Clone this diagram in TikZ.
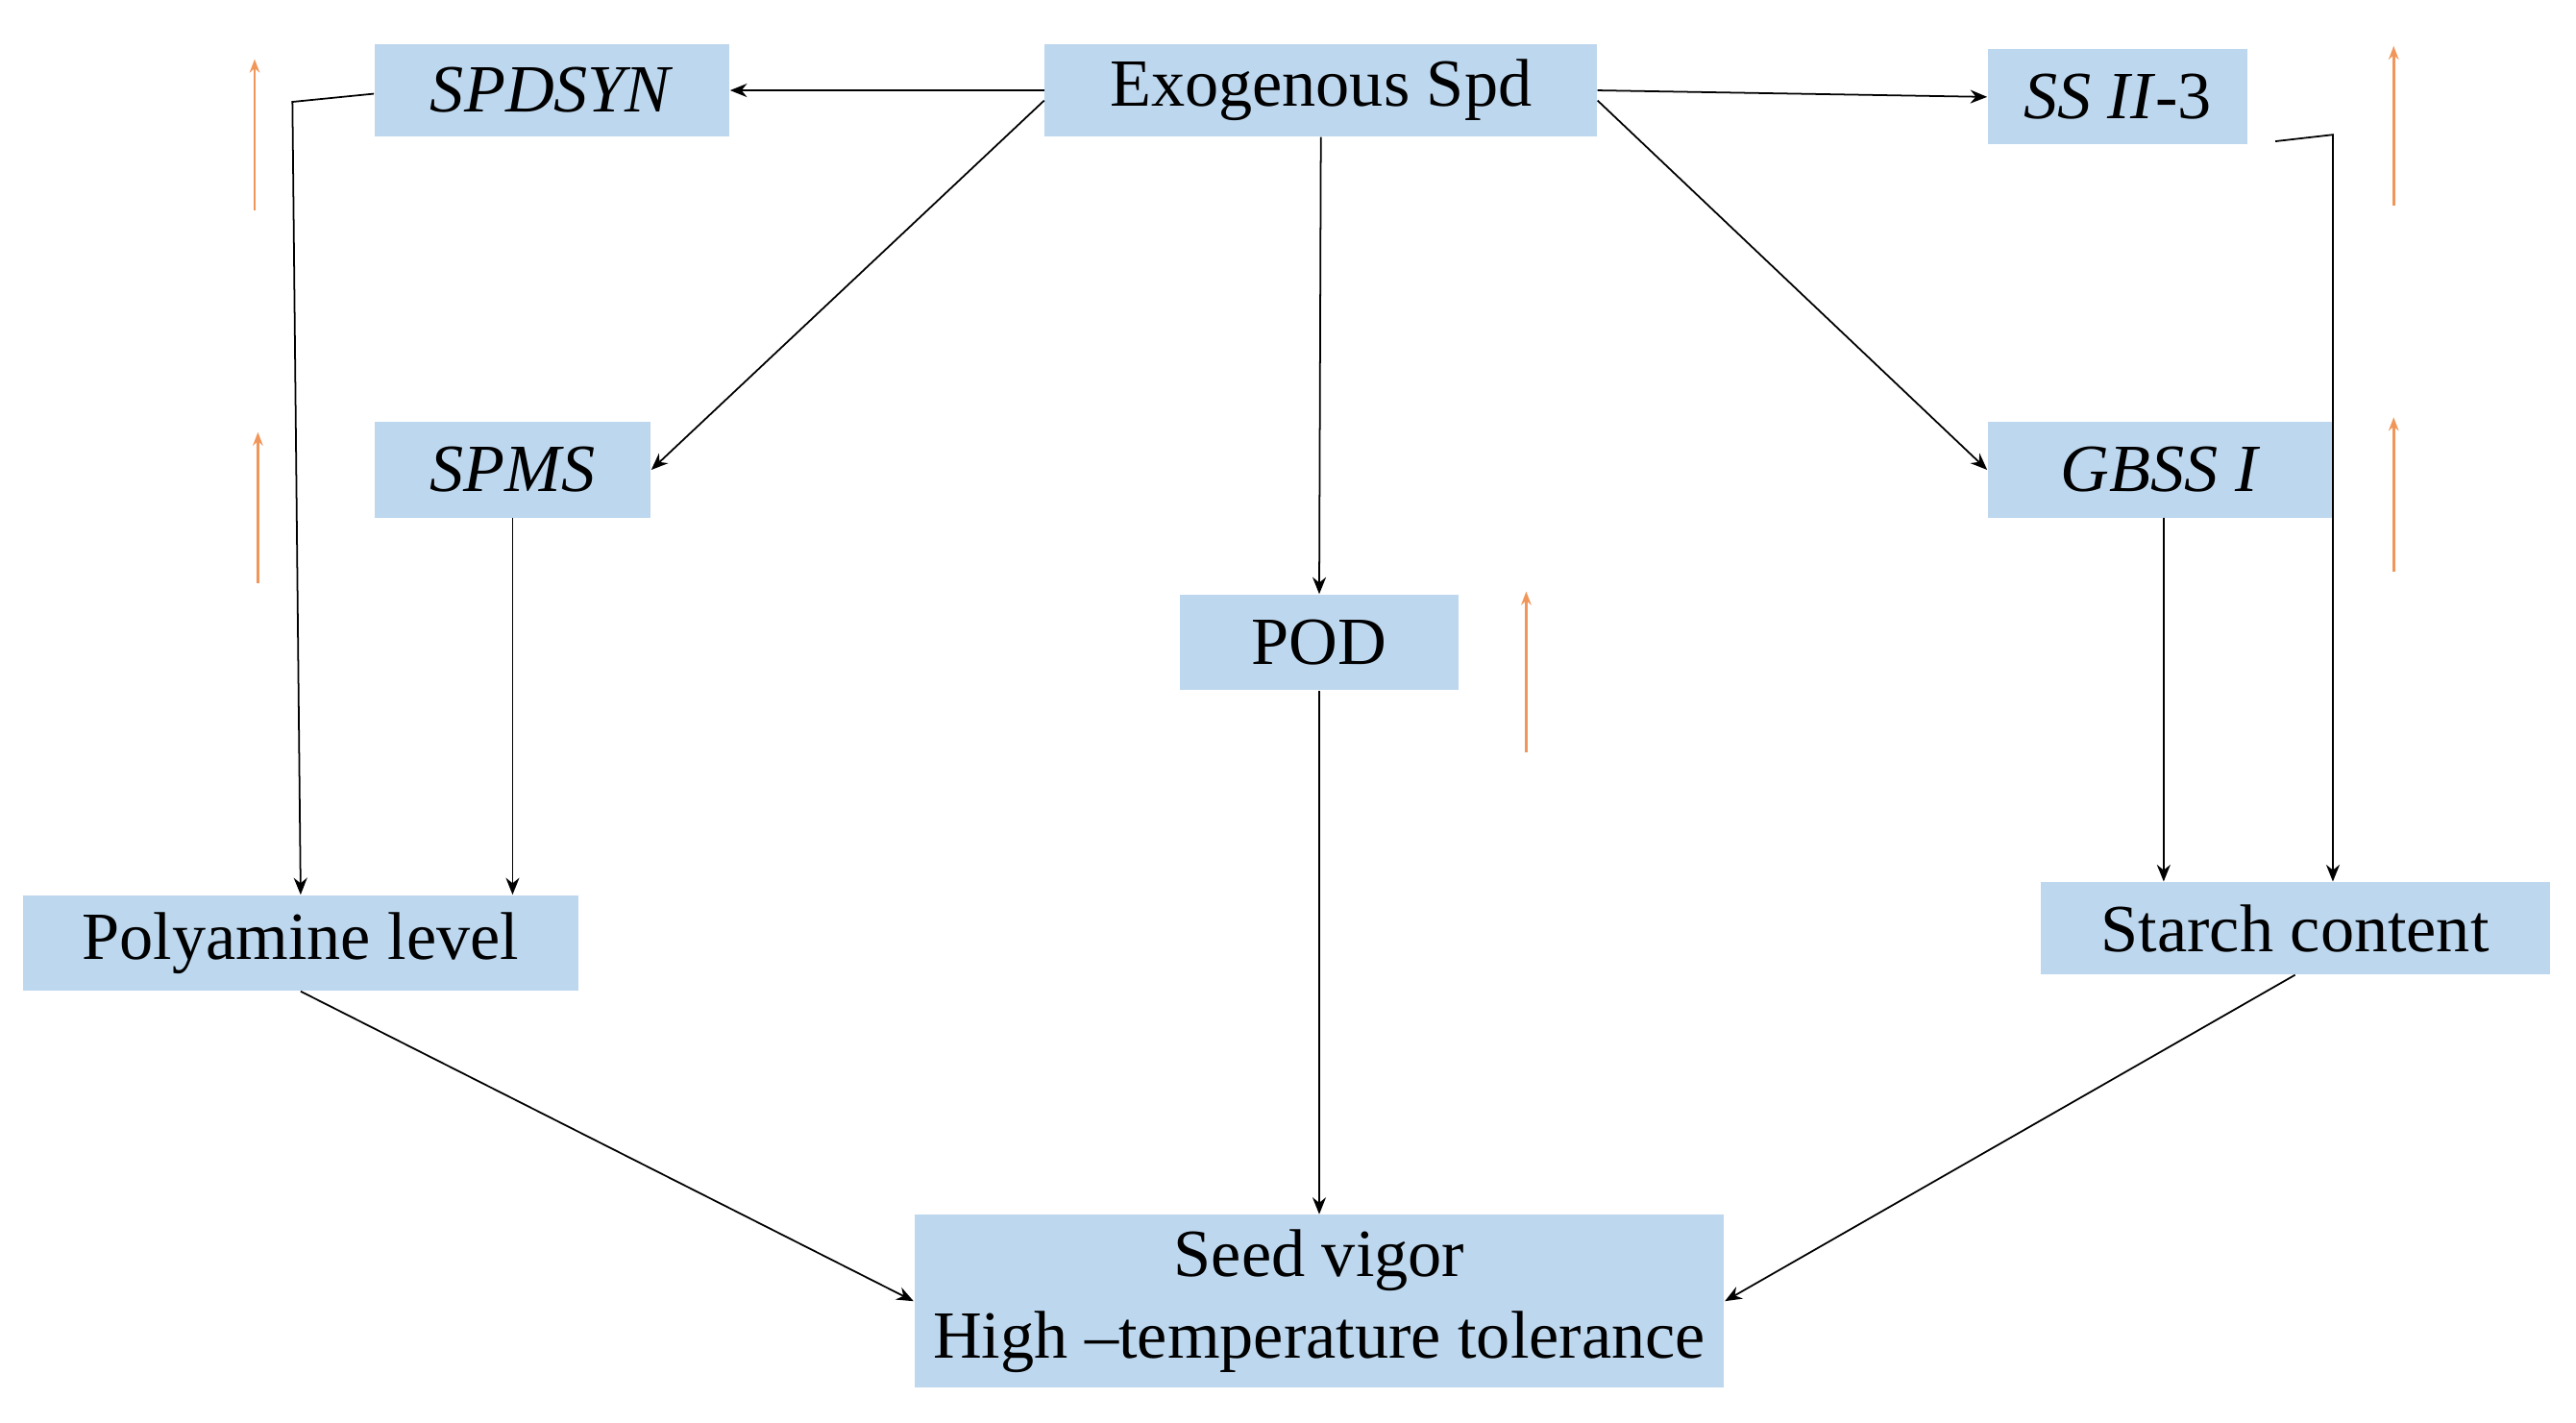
\documentclass[tikz,border=0pt]{standalone}
\usepackage{fontspec}
\setmainfont{Liberation Serif}
\usetikzlibrary{arrows.meta}
\definecolor{bx}{RGB}{189,215,238}
\definecolor{org}{RGB}{240,150,90}
\begin{document}
\begin{tikzpicture}[x=0.01710cm,y=-0.01710cm,
 box/.style={fill=bx,draw=none,inner sep=0pt,font=\fontsize{20}{24}\selectfont},
 sz/.style 2 args={minimum width=#1*0.0171cm,minimum height=#2*0.0171cm},
 ar/.style={-{Stealth[length=5pt,width=4pt]},line width=0.5pt},
 up/.style={org,line width=0.8pt,-{Stealth[length=4pt,width=3pt]}}]
\useasboundingbox (0,0) rectangle (1568,866);
\node[box,sz={216}{56}] (spdsyn) at (336,55) {\textit{SPDSYN}};
\node[box,sz={336}{56}] (exo) at (804,55) {Exogenous Spd};
\node[box,sz={158}{58}] (ss) at (1289,59) {\textit{SS II}-3};
\node[box,sz={168}{58}] (spms) at (312,286) {\textit{SPMS}};
\node[box,sz={210}{58}] (gbss) at (1315,286) {\textit{GBSS I}};
\node[box,sz={170}{58}] (pod) at (803,391) {POD};
\node[box,sz={338}{58}] (poly) at (183,574) {Polyamine level};
\node[box,sz={310}{56}] (starch) at (1397,565) {Starch content};
\node[box,sz={493}{105},align=center] (seed) at (803,792) {Seed vigor\\High --temperature tolerance};
\draw[ar] (exo.west) -- (spdsyn.east);
\draw[ar] (exo.east) -- (ss.west);
\draw[ar] ([yshift=-3pt]exo.west) -- (spms.east);
\draw[ar] ([yshift=-3pt]exo.east) -- (gbss.west);
\draw[ar] (exo.south) -- (pod.north);
\coordinate (c1) at (178,62);
\draw[ar] ([yshift=-1pt]spdsyn.west) -- (c1) -- (poly.north);
\draw[ar] (spms.south) -- (spms.south |- poly.north);
\coordinate (c2) at (1420,82);
\coordinate (c3) at (1385,86);
\draw[ar] (c3) -- (c2) -- (starch.north -| c2);
\coordinate (g1) at (1317,315);
\draw[ar] (g1) -- (g1 |- starch.north);
\draw[ar] (poly.south) -- (seed.west);
\draw[ar] (pod.south) -- (seed.north);
\draw[ar] (starch.south) -- (seed.east);
\coordinate (u1a) at (155,128); \coordinate (u1b) at (155,36);
\coordinate (u2a) at (157,355); \coordinate (u2b) at (157,263);
\coordinate (u3a) at (929,458); \coordinate (u3b) at (929,360);
\coordinate (u4a) at (1457,125); \coordinate (u4b) at (1457,28);
\coordinate (u5a) at (1457,348); \coordinate (u5b) at (1457,254);
\foreach \i in {1,...,5}{\draw[up] (u\i a) -- (u\i b);}
\end{tikzpicture}
\end{document}
